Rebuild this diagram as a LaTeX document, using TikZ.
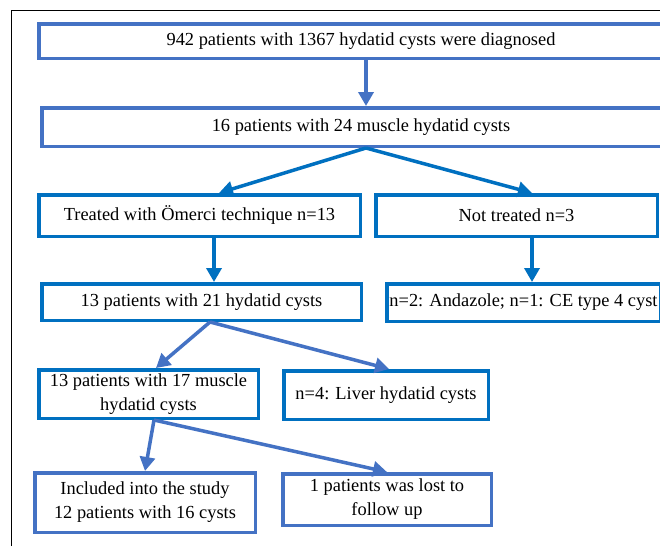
\documentclass[tikz,border=0pt]{standalone}
\usepackage{fontspec}
\setmainfont{Liberation Serif}
\usetikzlibrary{arrows.meta}
\definecolor{bdark}{HTML}{0070C0}
\definecolor{blight}{HTML}{4472C4}
\begin{document}
\begin{tikzpicture}[x=1pt,y=-1pt,
  box/.style={draw, line width=3.5pt, inner sep=0pt, align=center,
    font=\fontsize{18.4}{24}\selectfont, text=black},
  boxD/.style={box, draw=bdark},
  boxL/.style={box, draw=blight},
  arr/.style={line width=3.5pt, -{Triangle[length=14pt,width=15pt]}},
  arrD/.style={arr, draw=bdark, fill=bdark},
  arrL/.style={arr, draw=blight, fill=blight}]
\useasboundingbox (0,0) rectangle (660,546);
\fill[white] (0,0) rectangle (660,546);
\draw[black, line width=1pt] (11,546) -- (11,10) -- (660,10);

\node[boxL, minimum width=644.5pt, minimum height=34.5pt] (b1) at (361,41) {942 patients with 1367 hydatid cysts were diagnosed};
\node[boxL, minimum width=638.5pt, minimum height=38.5pt] (b2) at (361,127) {16 patients with 24 muscle hydatid cysts};
\node[boxD, minimum width=321.5pt, minimum height=41.5pt] (b3) at (199.5,215.5) {Treated with Ömerci technique n=13};
\node[boxD, minimum width=281.5pt, minimum height=41.5pt] (b4) at (516.5,215.5) {Not treated n=3};
\node[boxD, minimum width=319.5pt, minimum height=36.5pt] (b5) at (201.5,302) {13 patients with 21 hydatid cysts};
\node[boxD, minimum width=273.5pt, minimum height=37.5pt] (b6) at (523.5,302.5) {n=2: Andazole; n=1: CE type 4 cyst};
\node[boxD, minimum width=219.5pt, minimum height=48.5pt] (b7) at (148.5,394) {13 patients with 17 muscle\\hydatid cysts};
\node[boxD, minimum width=204.5pt, minimum height=48.5pt] (b8) at (386,395) {n=4: Liver hydatid cysts};
\node[boxL, minimum width=220.5pt, minimum height=59.5pt] (b9) at (145,502.5) {\raisebox{-3pt}{\parbox{200pt}{\centering Included into the study\\12 patients with 16 cysts}}};
\node[boxL, minimum width=208.5pt, minimum height=51.5pt] (b10) at (387,499.5) {1 patients was lost to\\follow up};

\draw[arrL] ([xshift=5pt]b1.south) -- ([xshift=5pt]b2.north);
\draw[arrD] ([xshift=5pt]b2.south) -- ([xshift=19.5pt]b3.north);
\draw[arrD] ([xshift=5pt]b2.south) -- ([xshift=15.5pt]b4.north);
\draw[arrD] ([xshift=14.5pt]b3.south) -- ([xshift=14.5pt]b3.south |- b5.north);
\draw[arrD] ([xshift=15.5pt]b4.south) -- ([xshift=15.5pt]b4.south |- b6.north);
\draw[arrL] ([xshift=8.5pt]b5.south) -- ([xshift=7.5pt]b7.north);
\draw[arrL] ([xshift=8.5pt]b5.south) -- ([xshift=3pt]b8.north);
\draw[arrL] ([xshift=5.5pt]b7.south) -- (b9.north);
\draw[arrL] ([xshift=5.5pt]b7.south) -- (b10.north);
\end{tikzpicture}
\end{document}
